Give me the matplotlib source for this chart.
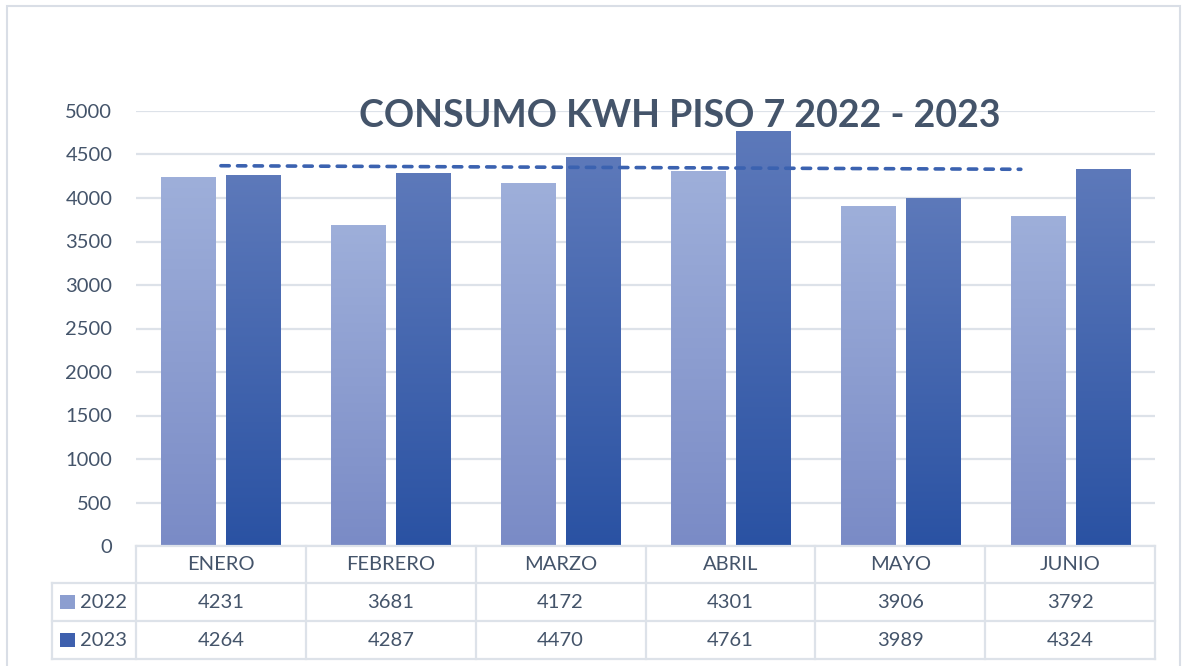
import numpy as np
import matplotlib
matplotlib.use("Agg")
import matplotlib.pyplot as plt
from matplotlib.colors import LinearSegmentedColormap
from matplotlib.patches import Rectangle
from matplotlib.lines import Line2D

months = ["ENERO", "FEBRERO", "MARZO", "ABRIL", "MAYO", "JUNIO"]
years = ["2022", "2023"]
kwh_2022 = [4231, 3681, 4172, 4301, 3906, 3792]
kwh_2023 = [4264, 4287, 4470, 4761, 3989, 4324]

W, H = 1185, 666
txt_col = "#44546A"
grid_col = "#DDE2E9"

plt.rcParams["font.family"] = ["Lato", "DejaVu Sans"]

fig = plt.figure(figsize=(W / 100, H / 100), dpi=100)

def fx(px):
    return px / W

def fy(py):
    return 1 - py / H

# outer chart border
fig.patches.append(Rectangle((fx(7), fy(700)), fx(1180) - fx(7), fy(6) - fy(700),
                             transform=fig.transFigure, fill=False,
                             edgecolor="#D9DEE6", lw=1.5))

left, right, top, base = 136, 1155, 111, 546
ax = fig.add_axes([fx(left), fy(base), fx(right - left), fy(top) - fy(base)])

cm22 = LinearSegmentedColormap.from_list("c22", ["#7A8BC6", "#9EAFDA"])
cm23 = LinearSegmentedColormap.from_list("c23", ["#2A52A3", "#5D79BA"])
grad = np.linspace(0, 1, 256).reshape(-1, 1)

x = np.arange(len(months))
bw = 0.318
off = 0.191
for vals, cm, sgn in [(kwh_2022, cm22, -1), (kwh_2023, cm23, 1)]:
    for i, v in enumerate(vals):
        xc = x[i] + sgn * off
        ax.imshow(grad, cmap=cm, origin="lower", aspect="auto",
                  extent=[xc - bw / 2, xc + bw / 2, 0, v], zorder=2)

# linear trend of 2023
k, b = np.polyfit(x, kwh_2023, 1)
xt = np.array([0, 4.71])
ax.plot(xt, k * xt + b, color="#3B62B0", lw=2.6, dashes=(2.3, 2.3),
        dash_capstyle="round", zorder=3)

ax.set_xlim(-0.5, 5.5)
ax.set_ylim(0, 5000)
ax.set_yticks(range(0, 5001, 500))
ax.yaxis.grid(True, color=grid_col, lw=1.6, zorder=0)
ax.set_axisbelow(True)
ax.set_xticks([])
ax.tick_params(axis="y", length=0, pad=17, labelsize=14.5, labelcolor=txt_col)
for s in ["top", "right", "left"]:
    ax.spines[s].set_visible(False)
ax.spines["bottom"].set_color(grid_col)
ax.spines["bottom"].set_linewidth(1.6)

fig.text(fx(680), fy(116), "CONSUMO KWH PISO 7 2022 - 2023", ha="center",
         va="center", fontsize=27, fontweight="bold", color=txt_col)

# data table below the axis
rows = [546, 583, 621, 659]
lw_t = 1.6
for r in rows[1:]:
    fig.lines.append(Line2D([fx(52), fx(right)], [fy(r), fy(r)],
                            transform=fig.transFigure, color=grid_col, lw=lw_t))
for i in range(len(months) + 1):
    xp = left + i * (right - left) / len(months)
    fig.lines.append(Line2D([fx(xp), fx(xp)], [fy(546), fy(659)],
                            transform=fig.transFigure, color=grid_col, lw=lw_t))
fig.lines.append(Line2D([fx(52), fx(52)], [fy(583), fy(659)],
                        transform=fig.transFigure, color=grid_col, lw=lw_t))

cw = (right - left) / len(months)
for i, m in enumerate(months):
    xc = left + (i + 0.5) * cw
    fig.text(fx(xc), fy(565), m, ha="center", va="center", fontsize=14.5, color=txt_col)
    fig.text(fx(xc), fy(603), str(kwh_2022[i]), ha="center", va="center",
             fontsize=14.5, color=txt_col)
    fig.text(fx(xc), fy(641), str(kwh_2023[i]), ha="center", va="center",
             fontsize=14.5, color=txt_col)

for yr, col, ry in [(years[0], "#8C9ED0", 602), (years[1], "#3E60AE", 640)]:
    fig.patches.append(Rectangle((fx(60), fy(ry + 7)), fx(15), fy(ry - 7) - fy(ry + 7),
                                 transform=fig.transFigure, facecolor=col,
                                 edgecolor="none"))
    fig.text(fx(80), fy(ry), yr, ha="left", va="center", fontsize=14.5, color=txt_col)

fig.savefig("out.png", dpi=100)
